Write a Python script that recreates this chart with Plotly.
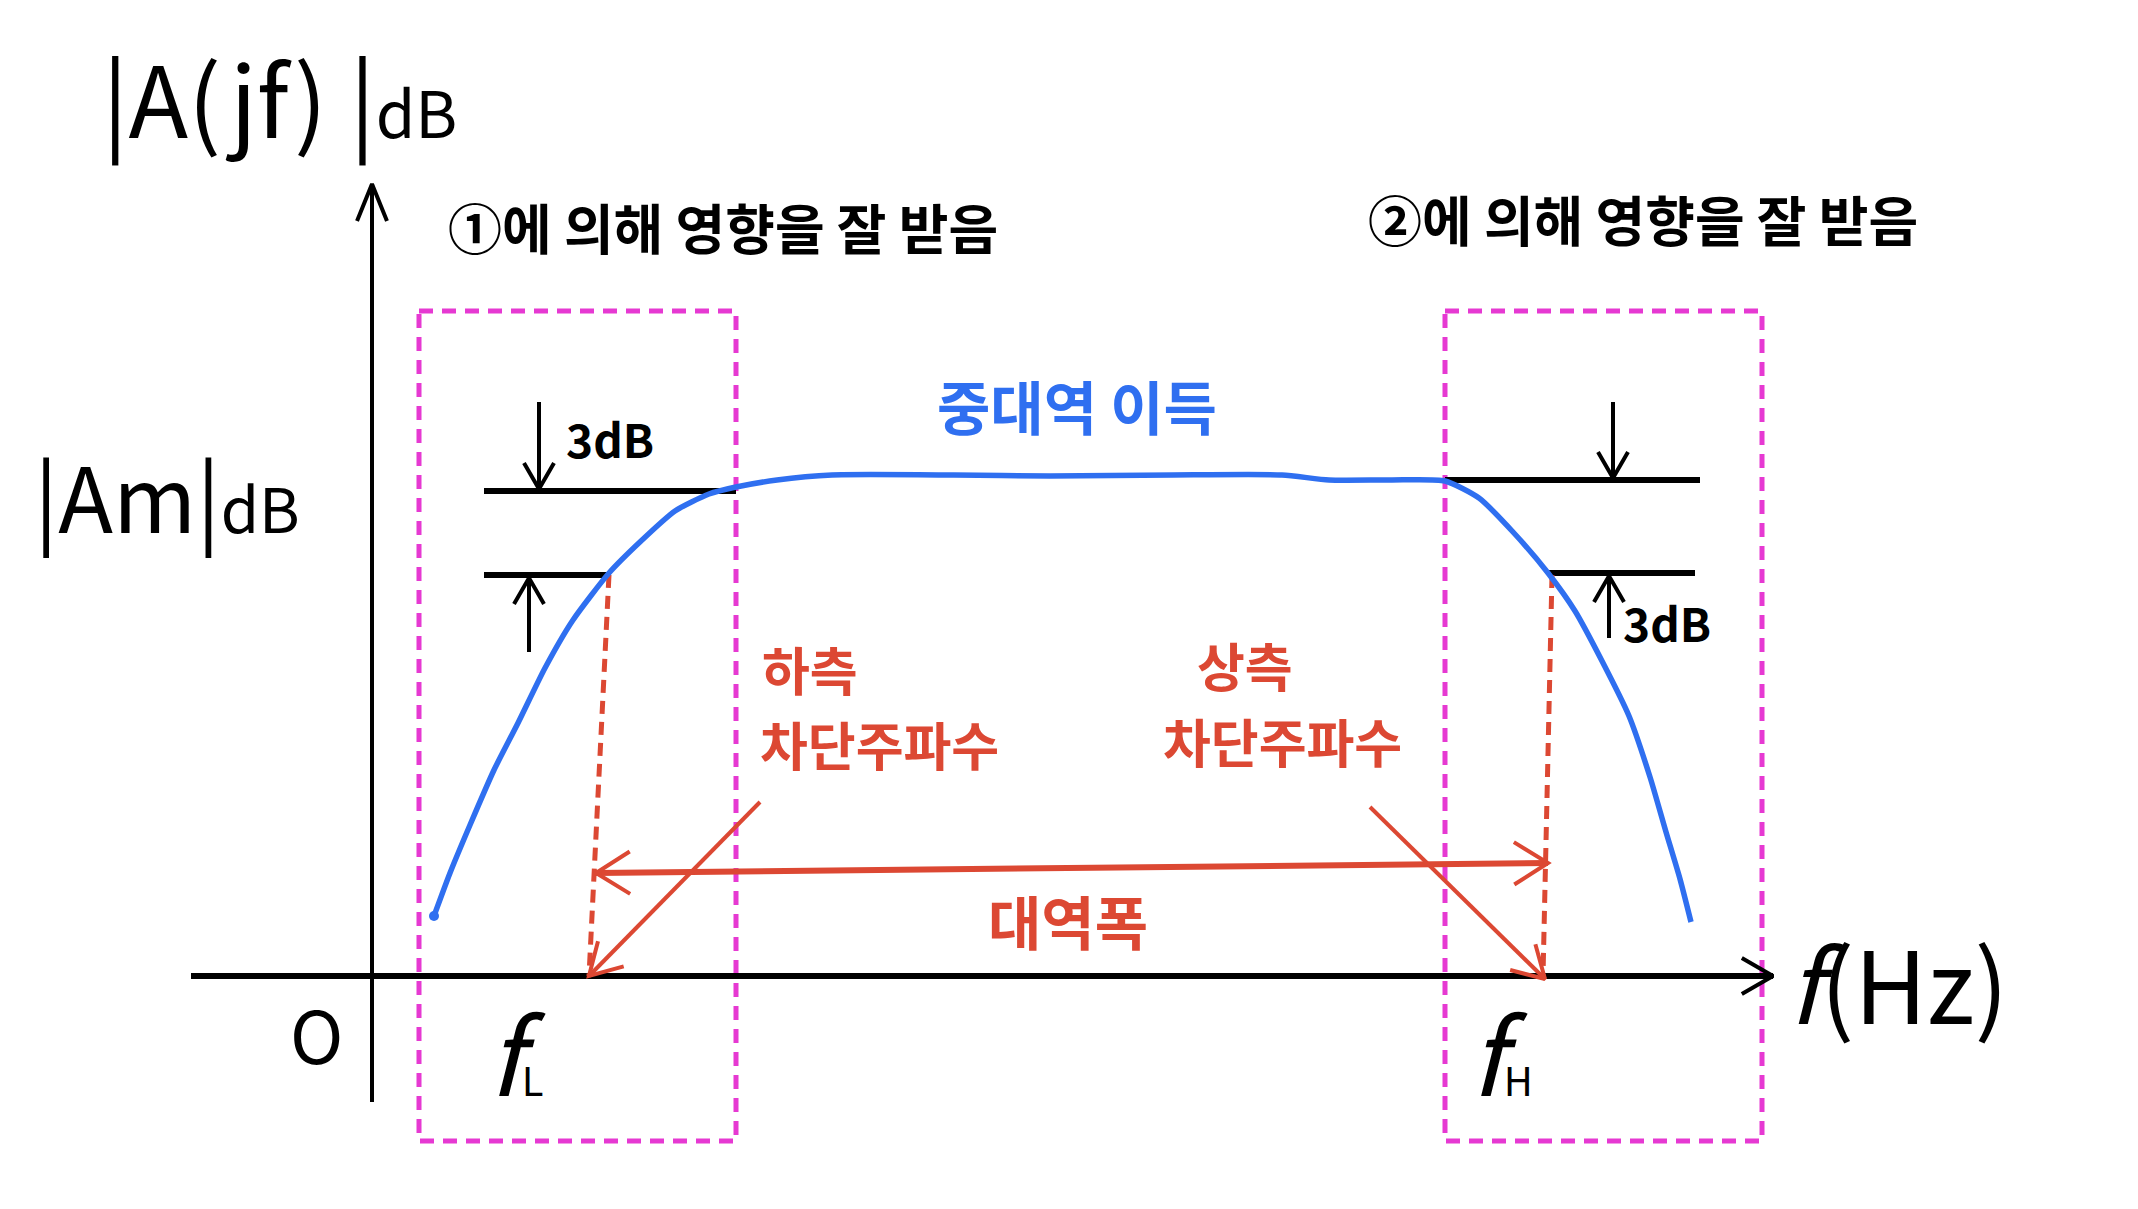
import numpy as np
import plotly.graph_objects as go

W, H = 2138, 1209
PAGE_MARGIN = 8  # default body margin of the html page

# ---------------- data (canvas units) ----------------
gain_x = [434, 450, 470, 494, 518, 545, 573, 609, 641, 675, 709, 736, 777, 832, 954,
          1050, 1173, 1282, 1329, 1391, 1445, 1479, 1513, 1548, 1575, 1602, 1629,
          1650, 1666, 1680, 1691]
gain_y = [916, 873, 825, 770, 723, 668, 620, 573, 541, 511, 494, 487, 480, 475, 475,
          476, 475, 475, 480, 480, 481, 498, 532, 573, 611, 661, 716, 777, 832, 879, 922]

axis_x_line = [191, 1773]       # x axis extent
axis_x_level = 976
axis_y_pos = 372
axis_y_line = [1102, 184]

box_left_x = [419, 736]
box_right_x = [1445, 1762]
box_y = [311, 1141]

# 3 dB reference lines: (x0, x1, y)
ref_lines = [(484, 736, 491), (484, 609, 575), (1445, 1700, 480), (1548, 1695, 573)]
# 3 dB arrows: (tail x, tail y, head x, head y)
black_arrows = [(539, 402, 539, 489), (529, 652, 529, 578),
                (1613, 402, 1613, 478), (1609, 638, 1609, 576)]

cutoff_dash = [((609, 575), (589, 976)), ((1552, 575), (1543, 976))]
bandwidth = ((596, 873), (1548, 863))
pointer_lines = [((760, 802), (589, 976)), ((1370, 807), (1545, 979))]

BLACK = "#000000"
BLUE = "#2F6FF0"
RED = "#DC4833"
MAGENTA = "#E639D2"
FONT = "Noto Sans CJK KR"

fig = go.Figure()


def seg(xs, ys, color, width, dash="solid"):
    fig.add_trace(go.Scatter(x=xs, y=ys, mode="lines",
                             line=dict(color=color, width=width, dash=dash),
                             hoverinfo="skip", showlegend=False))


def arrowhead(tail, head, color, width, length=34, angle=28):
    t = np.array(tail, float)
    h = np.array(head, float)
    d = (t - h) / np.linalg.norm(t - h)
    pts = []
    for s in (1, -1):
        a = np.radians(angle) * s
        r = np.array([[np.cos(a), -np.sin(a)], [np.sin(a), np.cos(a)]])
        pts.append(h + length * (r @ d))
    seg([pts[0][0], h[0], pts[1][0]], [pts[0][1], h[1], pts[1][1]], color, width)


# magenta dashed boxes
for bx in (box_left_x, box_right_x):
    seg([bx[0], bx[1], bx[1], bx[0], bx[0]],
        [box_y[0], box_y[0], box_y[1], box_y[1], box_y[0]],
        MAGENTA, 5, dash="14px,9px")

# axes
seg(axis_x_line, [axis_x_level, axis_x_level], BLACK, 6)
arrowhead((axis_x_line[0], axis_x_level), (axis_x_line[1], axis_x_level), BLACK, 4, 36, 30)
seg([axis_y_pos, axis_y_pos], axis_y_line, BLACK, 4)
arrowhead((axis_y_pos, axis_y_line[0]), (axis_y_pos, axis_y_line[1]), BLACK, 4, 40, 22)

# 3 dB reference lines and arrows
for x0, x1, y in ref_lines:
    seg([x0, x1], [y, y], BLACK, 6)
for tx, ty, hx, hy in black_arrows:
    seg([tx, hx], [ty, hy], BLACK, 4)
    arrowhead((tx, ty), (hx, hy), BLACK, 4, 30, 30)

# red dashed cutoff lines
for (p0, p1) in cutoff_dash:
    seg([p0[0], p1[0]], [p0[1], p1[1]], RED, 5, dash="13px,8px")

# bandwidth double arrow
(b0, b1) = bandwidth
seg([b0[0], b1[0]], [b0[1], b1[1]], RED, 6)
arrowhead(b1, b0, RED, 4, 40, 32)
arrowhead(b0, b1, RED, 4, 40, 32)

# pointer lines
for (p0, p1) in pointer_lines:
    seg([p0[0], p1[0]], [p0[1], p1[1]], RED, 4)
    arrowhead(p0, p1, RED, 4, 36, 30)

# blue gain curve
fig.add_trace(go.Scatter(x=gain_x, y=gain_y, mode="lines",
                         line=dict(color=BLUE, width=5.5, shape="spline", smoothing=0.6),
                         hoverinfo="skip", showlegend=False))
fig.add_trace(go.Scatter(x=gain_x[:1], y=gain_y[:1], mode="markers",
                         marker=dict(color=BLUE, size=10), hoverinfo="skip", showlegend=False))


def label(text, x, y, size, color=BLACK, xanchor="left", weight="normal"):
    fig.add_annotation(x=x, y=y, xref="x", yref="y", text=text, showarrow=False,
                       xanchor=xanchor, yanchor="middle",
                       font=dict(family=FONT, size=size, color=color, weight=weight))


label("|A(jf) |<span style='font-size:64px'>dB</span>", 100, 95, 98)
label("|Am|<span style='font-size:62px'>dB</span>", 32, 494, 90)
label("①에 의해 영향을 잘 받음", 446, 226, 54, weight="bold")
label("②에 의해 영향을 잘 받음", 1366, 218, 54, weight="bold")
label("3dB", 564, 438, 46, weight="bold")
label("3dB", 1621, 622, 46, weight="bold")
label("중대역 이득", 1077, 405, 58, BLUE, "center", weight="bold")
label("하측", 760, 668, 52, RED, weight="bold")
label("차단주파수", 758, 743, 52, RED, weight="bold")
label("상측", 1245, 664, 52, RED, "center", weight="bold")
label("차단주파수", 1282, 740, 52, RED, "center", weight="bold")
label("대역폭", 1068, 920, 58, RED, "center", weight="bold")
label("O", 316, 1032, 72, BLACK, "center")
label("<i>f</i><span style='font-size:40px'>L</span>", 486, 1050, 104)
label("<i>f</i><span style='font-size:40px'>H</span>", 1468, 1050, 104)
label("<i>f</i>(Hz)", 1786, 980, 100)

m = PAGE_MARGIN
fig.update_layout(
    width=W - 2 * m, height=H - 2 * m,
    margin=dict(l=0, r=0, t=0, b=0),
    paper_bgcolor="white", plot_bgcolor="white",
    xaxis=dict(range=[m, W - m], visible=False, fixedrange=True),
    yaxis=dict(range=[H - m, m], visible=False, fixedrange=True),
    showlegend=False,
)

fig.write_html("out.html")
